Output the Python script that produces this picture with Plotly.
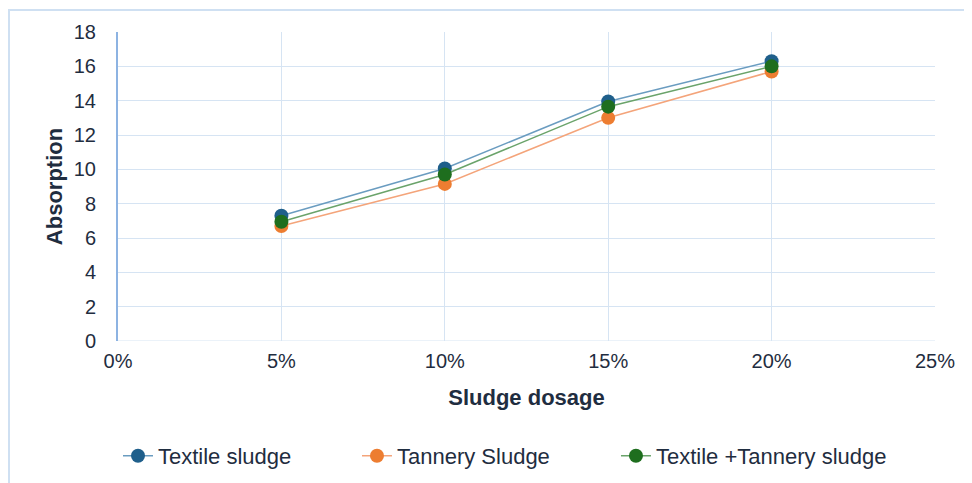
import plotly.graph_objects as go

dosage = [0.05, 0.10, 0.15, 0.20]
textile = [7.3, 10.05, 13.95, 16.3]
tannery = [6.7, 9.15, 13.0, 15.7]
combined = [6.95, 9.7, 13.65, 16.0]

series = [
    ("Textile sludge", textile, "#1f5f8b", "#6a9cc0", "legend", 0.0),
    ("Tannery Sludge", tannery, "#ed7d31", "#f4a47a", "legend2", 0.2925),
    ("Textile +Tannery sludge", combined, "#1e6e1e", "#6aa36a", "legend3", 0.6095),
]

txt = "#1f2d40"
fig = go.Figure()
legends = {}
for name, vals, mcol, lcol, lg, lx in series:
    fig.add_trace(go.Scatter(
        x=dosage, y=vals, name=name, mode="lines+markers",
        line=dict(color=lcol, width=1.5),
        marker=dict(color=mcol, size=14),
        legend=lg,
    ))
    legends[lg] = dict(orientation="h", x=lx, xanchor="left", y=-0.372, yanchor="middle",
                       font=dict(size=22, color=txt), bgcolor="rgba(0,0,0,0)")

fig.update_layout(
    width=972, height=483,
    margin=dict(l=110, r=45, t=24, b=150),
    paper_bgcolor="white", plot_bgcolor="white",
    font=dict(family="Liberation Sans, Arial", size=20, color=txt),
    showlegend=True,
    **legends,
    xaxis=dict(range=[0, 0.25], dtick=0.05, tickformat=".0%", showgrid=True,
               gridcolor="#d6e4f3", gridwidth=1, zeroline=False, showline=False,
               ticks="", ticklabelstandoff=6,
               title=dict(text="<b>Sludge dosage</b>", font=dict(size=22, color=txt), standoff=18)),
    yaxis=dict(range=[0, 18], dtick=2, showgrid=True, gridcolor="#d6e4f3", gridwidth=1,
               zeroline=False, showline=True, linecolor="#8db3e2", linewidth=2,
               ticks="", ticklabelstandoff=16,
               title=dict(text="<b>Absorption</b>", font=dict(size=22, color=txt), standoff=5)),
    shapes=[
        dict(type="rect", xref="paper", yref="paper", x0=-0.1334, x1=1.1, y0=-0.55, y1=1.0712,
             line=dict(color="#cfe0f2", width=2)),
        dict(type="line", xref="x", yref="y", x0=0, x1=0.25, y0=0, y1=0,
             line=dict(color="#d6e4f3", width=1), layer="below"),
    ],
)

fig.write_html("out.html")
